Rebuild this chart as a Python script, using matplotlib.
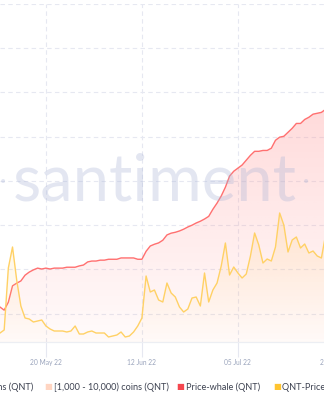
import numpy as np
import matplotlib
matplotlib.use('Agg')
import matplotlib.pyplot as plt
import matplotlib.dates as mdates
from matplotlib.colors import to_rgb
from matplotlib.patches import Polygon
import datetime as dt

# ── data: daily values, 09 May 22 .. 27 Jul 22 ─────────
start = dt.date(2022, 5, 9)
dates = [start + dt.timedelta(days=i) for i in range(80)]

# Price-whale (QNT), USD
price_whale = [51.5, 50.8, 52.6, 56.3, 56.9, 57.4, 58.7, 59.4, 59.9, 60.3,
               60.1, 60.3, 60.1, 60.3, 60.3, 60.3, 60.5, 60.5, 60.5, 60.8,
               61.0, 61.7, 61.9, 61.9, 62.1, 62.1, 62.3, 62.3, 62.3, 62.6,
               62.6, 62.6, 62.6, 62.3, 62.3, 64.1, 65.3, 65.7, 66.0, 66.6,
               67.8, 68.2, 68.4, 68.7, 69.1, 69.6, 70.0, 70.5, 70.9, 71.4,
               72.0, 73.6, 75.0, 76.6, 78.6, 81.1, 82.2, 82.9, 83.6, 84.7,
               85.8, 86.7, 86.7, 86.9, 86.9, 87.4, 89.2, 89.9, 90.1, 91.0,
               91.9, 93.0, 93.0, 93.9, 94.4, 95.1, 95.3, 95.5, 96.2, 96.7]

# QNT-Price-DAA Divergence
qnt_div = [25, 28, 90, 111, 78, 52, 40, 39, 36, 37,
           38, 32, 29, 27, 27, 27, 26, 27, 32, 24,
           24, 26, 27, 25, 25, 25, 21, 22, 23, 26,
           21, 22, 26, 32, 40, 82, 66, 68, 58, 56,
           75, 65, 61, 51, 46, 49, 60, 61, 52, 85,
           56, 68, 75, 92, 115, 83, 91, 85, 80, 84,
           102, 125, 113, 95, 99, 97, 111, 145, 133, 106,
           118, 121, 110, 114, 105, 107, 102, 100, 123, 128]

tick_dates = [dt.date(2022, 5, 20), dt.date(2022, 6, 12),
              dt.date(2022, 7, 5), dt.date(2022, 7, 28)]

legend_labels = ['[100 - 1,000) coins (QNT)', '[1,000 - 10,000) coins (QNT)',
                 'Price-whale (QNT)', 'QNT-Price-DAA Divergence']
legend_colors = ['#ffb8a0', '#ffd5c2', '#f5474f', '#ffc430']

RED_LINE = '#ff7070'
YEL_LINE = '#ffd165'
GRID = '#e6e8f1'
WM = '#aab4d6'


def gradient_fill(ax, x, y, color, a_top, a_bot, ymin, ymax):
    verts = [(x[0], ymin)] + list(zip(x, y)) + [(x[-1], ymin)]
    patch = Polygon(verts, closed=True, facecolor='none', edgecolor='none')
    ax.add_patch(patch)
    z = np.empty((200, 1, 4))
    z[:, :, :3] = to_rgb(color)
    z[:, :, 3] = np.linspace(a_bot, a_top, 200)[:, None]
    im = ax.imshow(z, aspect='auto', origin='lower', zorder=1,
                   extent=[x[0], x[-1], ymin, ymax])
    im.set_clip_path(patch)


x = mdates.date2num(dates)
x0 = mdates.date2num(start)

fig = plt.figure(figsize=(3.24, 4.0), dpi=100)
# the chart runs on past the right edge of the picture (cropped view)
ax = fig.add_axes([0, 58 / 400, 420 / 324, 338 / 400])
ax2 = ax.twinx()

# price: 10 USD per grid step
red_lo, red_hi = 43.6, 120.0
yel_lo, yel_hi = 16, 354

gradient_fill(ax, x, price_whale, '#ff9a9a', 0.38, 0.04, red_lo, 100)
ax.plot(x, price_whale, color=RED_LINE, lw=1.0, zorder=3)

gradient_fill(ax2, x, qnt_div, '#ffcf70', 0.22, 0.02, yel_lo, 150)
ax2.plot(x, qnt_div, color=YEL_LINE, lw=1.0, zorder=3)

ax.set_xlim(x0, x0 + 420 / 4.174)
ax.set_ylim(red_lo, red_hi)
ax2.set_ylim(yel_lo, yel_hi)

ax.set_yticks(np.arange(50, 121, 10))
ax.set_xticks(mdates.date2num(tick_dates))
ax.xaxis.set_major_formatter(mdates.DateFormatter('%d %b %y'))
ax.grid(True, color=GRID, lw=0.8, ls=(0, (4, 3)))
ax.set_axisbelow(True)
ax.tick_params(axis='y', left=False, labelleft=False)
ax.tick_params(axis='x', length=11, width=0.8, color=GRID, pad=1.5,
               labelsize=4.8, labelcolor='#9aa4bc')
ax2.tick_params(axis='y', right=False, labelright=False)
for a in (ax, ax2):
    for s in ['top', 'left', 'right']:
        a.spines[s].set_visible(False)
    a.spines['bottom'].set_color('#eceef3')
    a.spines['bottom'].set_linewidth(0.8)
for lab in ax.get_xticklabels():
    lab.set_fontfamily('Lato')

# watermark
wm_y = 1 - 182 / 400
fig.text(155 / 324, wm_y, 'santiment', fontsize=47, family='Lato',
         color=WM, alpha=0.32, ha='center', va='center')
fig.text(3 / 324, wm_y, '•', fontsize=10, color=WM, alpha=0.32, ha='center', va='center')
fig.text(306 / 324, wm_y, '•', fontsize=10, color=WM, alpha=0.32, ha='center', va='center')

# legend row (cropped at both sides like the reference)
leg_y = 1 - 387 / 400
fig.text(33 / 324, leg_y, legend_labels[0], fontsize=6.6, family='Lato',
         color='#3c4150', ha='right', va='center')
for lab, col, sx in zip(legend_labels[1:], legend_colors[1:], [48.5, 180.5, 277]):
    fig.text(sx / 324, leg_y, '■', fontsize=6, color=col, ha='center', va='center')
    fig.text((sx + 5) / 324, leg_y, lab, fontsize=6.6, family='Lato',
             color='#3c4150', ha='left', va='center')

plt.savefig('out.png', dpi=100)
